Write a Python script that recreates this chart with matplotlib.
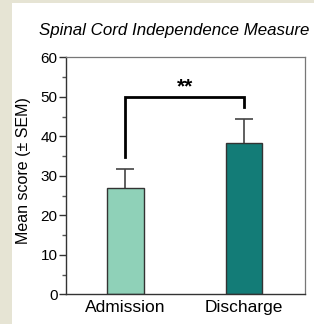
import matplotlib
matplotlib.use("Agg")
import matplotlib.pyplot as plt
from matplotlib.patches import Rectangle
from matplotlib.ticker import MultipleLocator

categories = ["Admission", "Discharge"]
means = [26.8, 38.3]
sems = [4.8, 6.0]
bar_colors = ["#8fd1b8", "#137c77"]
bracket_y = 50.0
bracket_left_low = 34.7
bracket_right_low = 47.3
sig_label = "**"
title = "Spinal Cord Independence Measure"
ylabel = "Mean score (\u00b1 SEM)"

plt.rcParams['font.family'] = ['Liberation Sans', 'DejaVu Sans']

W, H = 314, 324
fig = plt.figure(figsize=(W / 100, H / 100), dpi=100)
fig.patch.set_facecolor("#e6e4d4")
fig.add_artist(Rectangle((12 / W, 0), 1 - 12 / W, 1 - 3 / H, transform=fig.transFigure,
                         facecolor="white", edgecolor="none", zorder=0))

ax = fig.add_axes([66 / W, 1 - 294.3 / H, (305 - 66) / W, (294.3 - 57.3) / H])
ax.set_facecolor("white")
x = list(range(len(categories)))
ax.bar(x, means, width=0.31, color=bar_colors, edgecolor="#333333", linewidth=1.0, zorder=2)
ax.errorbar(x, means, yerr=sems, fmt="none", ecolor="#444444",
            elinewidth=1.2, capsize=6.5, capthick=1.2, zorder=1)

ax.plot([x[0], x[0], x[1], x[1]], [bracket_left_low, bracket_y, bracket_y, bracket_right_low],
        color="black", linewidth=2.0, solid_joinstyle="miter", zorder=3)
ax.text((x[0] + x[1]) / 2, bracket_y + 0.2, sig_label, ha="center", va="bottom",
        fontsize=15, fontweight="bold")

ax.set_xlim(-0.502, 1.515)
ax.set_ylim(0, 60)
ax.set_xticks(x)
ax.set_xticklabels(categories, fontsize=12.5)
ax.tick_params(axis="x", length=0, pad=4)
ax.yaxis.set_major_locator(MultipleLocator(10))
ax.yaxis.set_minor_locator(MultipleLocator(5))
ax.tick_params(axis="y", which="major", length=5, width=1, color="#333333", labelsize=11, pad=1)
ax.tick_params(axis="y", which="minor", length=3, width=1, color="#555555")
for s in ["left", "bottom"]:
    ax.spines[s].set_color("#333333")
    ax.spines[s].set_linewidth(1.0)
for s in ["top", "right"]:
    ax.spines[s].set_color("#777777")
    ax.spines[s].set_linewidth(0.9)

ax.set_ylabel(ylabel, fontsize=11.5)
ax.yaxis.set_label_coords(-0.148, 0.52)
fig.text(174 / W, 1 - 30 / H, title, ha="center", va="center", fontsize=12.2, style="italic")

fig.savefig("out.png", dpi=100)
